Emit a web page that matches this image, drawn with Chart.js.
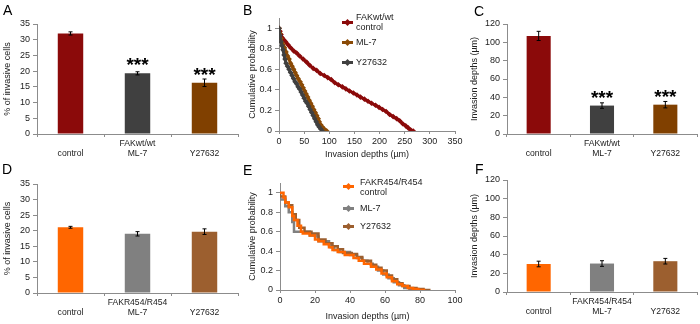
<!DOCTYPE html>
<html>
<head>
<meta charset="utf-8">
<script src="https://cdn.jsdelivr.net/npm/chart.js@4/dist/chart.umd.min.js"></script>
<style>
  body { margin: 0; background: #fff; }
  #wrap { position: relative; width: 700px; height: 324px; overflow: hidden; font-family: "Liberation Sans", Arial, sans-serif; }
  canvas { position: absolute; }
  .letter { position: absolute; font-size: 14px; line-height: 14px; color: #000; }
  .leg { position: absolute; font-size: 9px; line-height: 9.5px; color: #222; }
  .mk { position: absolute; width: 11px; height: 3px; }
  .mk i { position: absolute; left: 3px; top: -1.5px; width: 5px; height: 5px; transform: rotate(45deg); }
</style>
</head>
<body>
<div id="wrap">
  <canvas id="cA" width="240" height="160" style="left:0;top:0"></canvas>
  <canvas id="cB" width="240" height="160" style="left:230px;top:0"></canvas>
  <canvas id="cC" width="240" height="160" style="left:460px;top:0"></canvas>
  <canvas id="cD" width="240" height="164" style="left:0;top:160px"></canvas>
  <canvas id="cE" width="240" height="164" style="left:230px;top:160px"></canvas>
  <canvas id="cF" width="240" height="164" style="left:460px;top:160px"></canvas>

  <div class="letter" style="left:3px;top:3px">A</div>
  <div class="letter" style="left:243px;top:3px">B</div>
  <div class="letter" style="left:474px;top:4px">C</div>
  <div class="letter" style="left:2px;top:162px">D</div>
  <div class="letter" style="left:243px;top:163px">E</div>
  <div class="letter" style="left:475px;top:162px">F</div>

  <!-- legend B -->
  <div class="mk" style="left:342px;top:21px;background:#8b0a0a"><i style="background:#8b0a0a"></i></div>
  <div class="leg" style="left:356px;top:13px">FAKwt/wt<br>control</div>
  <div class="mk" style="left:342px;top:41px;background:#8a4a06"><i style="background:#8a4a06"></i></div>
  <div class="leg" style="left:356px;top:38px">ML-7</div>
  <div class="mk" style="left:342px;top:61px;background:#404040"><i style="background:#404040"></i></div>
  <div class="leg" style="left:356px;top:58px">Y27632</div>

  <!-- legend E -->
  <div class="mk" style="left:343px;top:185px;background:#ff6600"><i style="background:#ff6600"></i></div>
  <div class="leg" style="left:360px;top:178px">FAKR454/R454<br>control</div>
  <div class="mk" style="left:343px;top:207px;background:#808080"><i style="background:#808080"></i></div>
  <div class="leg" style="left:360px;top:204px">ML-7</div>
  <div class="mk" style="left:343px;top:225px;background:#9c5f2f"><i style="background:#9c5f2f"></i></div>
  <div class="leg" style="left:360px;top:222px">Y27632</div>
</div>
<script>
// ---- data ----
const barLabelsWt  = [['', 'control'], ['FAKwt/wt', 'ML-7'], ['', 'Y27632']];
const barLabelsMut = [['', 'control'], ['FAKR454/R454', 'ML-7'], ['', 'Y27632']];

const invasiveWt     = [32.0, 19.3, 16.3];
const invasiveWtErr  = [0.5, 0.5, 1.2];
const depthWt        = [107, 31, 32];
const depthWtErr     = [5, 3, 3.5];
const invasiveMut    = [21.1, 19.0, 19.7];
const invasiveMutErr = [0.3, 0.7, 0.9];
const depthMut       = [30, 30.5, 33];
const depthMutErr    = [3, 3, 3];
const starsWt        = ['', '***', '***'];

const colorsWt  = ['#8b0a0a', '#404040', '#804000'];
const colorsMut = ['#ff6600', '#808080', '#9c5f2f'];

const probTicks = [0, 0.2, 0.4, 0.6, 0.8, 1];
const probTickLabels = ['0', '0.2', '0.4', '0.6', '0.8', '1'];

// panel B cumulative curves [depth, probability]
const wtControl = [[0,1],[2,0.97],[4,0.94],[6,0.91],[9,0.89],[13,0.87],[18,0.84],[23,0.81],[29,0.78],[35,0.76],[41,0.73],[48,0.70],[55,0.67],[61,0.64],[68,0.61],[75,0.59],[82,0.56],[90,0.54],[97,0.52],[104,0.50],[111,0.47],[118,0.45],[126,0.43],[133,0.41],[140,0.39],[148,0.37],[155,0.35],[162,0.33],[170,0.31],[177,0.29],[184,0.27],[192,0.25],[199,0.23],[206,0.21],[213,0.19],[220,0.16],[227,0.14],[234,0.12],[240,0.10],[246,0.07],[252,0.05],[257,0.03],[262,0.01],[267,0]];
const wtML7 = [[0,1],[2,0.95],[4,0.90],[6,0.86],[8,0.84],[11,0.81],[14,0.77],[17,0.73],[20,0.70],[23,0.66],[26,0.63],[29,0.60],[32,0.57],[35,0.54],[38,0.51],[42,0.48],[45,0.45],[48,0.42],[51,0.39],[54,0.36],[57,0.33],[60,0.30],[63,0.27],[66,0.24],[69,0.21],[72,0.18],[75,0.15],[78,0.12],[80,0.09],[83,0.06],[86,0.04],[90,0.02],[95,0]];
const wtY27632 = [[0,1],[2,0.93],[4,0.87],[6,0.83],[8,0.79],[10,0.74],[12,0.70],[14,0.66],[17,0.63],[20,0.60],[23,0.57],[26,0.54],[29,0.51],[32,0.48],[35,0.46],[38,0.43],[41,0.41],[44,0.38],[47,0.35],[50,0.32],[53,0.29],[56,0.27],[59,0.24],[62,0.21],[65,0.18],[68,0.15],[71,0.12],[74,0.09],[77,0.06],[80,0.04],[83,0.02],[86,0]];

// panel E step curves [depth, probability]
const mutControl = [[0,1],[2,1],[3,0.95],[5,0.90],[7,0.85],[8,0.76],[10,0.72],[12,0.66],[13,0.60],[17,0.58],[20,0.56],[22,0.52],[25,0.50],[28,0.47],[30,0.44],[33,0.41],[37,0.39],[42,0.36],[45,0.33],[48,0.30],[52,0.27],[55,0.24],[58,0.21],[61,0.17],[64,0.13],[67,0.09],[70,0.06],[73,0.04],[76,0.02],[79,0.01],[83,0]];
const mutML7 = [[0,1],[3,0.93],[5,0.86],[7,0.80],[8,0.70],[12,0.60],[17,0.60],[21,0.56],[22,0.55],[28,0.50],[29,0.46],[31,0.44],[34,0.41],[40,0.39],[44,0.36],[47,0.33],[50,0.30],[53,0.27],[56,0.24],[59,0.20],[62,0.16],[65,0.12],[68,0.08],[71,0.05],[74,0.02],[77,0]];
const mutY27632 = [[0,1],[3,0.96],[5,0.90],[7,0.87],[9,0.78],[11,0.72],[14,0.64],[18,0.60],[22,0.58],[26,0.52],[30,0.48],[33,0.45],[36,0.42],[41,0.38],[44,0.37],[47,0.34],[52,0.30],[55,0.26],[58,0.23],[61,0.20],[64,0.15],[67,0.11],[70,0.07],[74,0.04],[78,0.02],[82,0.01],[86,0]];

// ---- common ----
const FONT = '"Liberation Sans", Arial, sans-serif';
const AXIS = '#8c8c8c';
const TXT = '#222';
Chart.defaults.font.family = FONT;
Chart.defaults.animation = false;

const errorBars = {
  id: 'errorBars',
  afterDatasetsDraw(chart, args, opts) {
    if (!opts.errors) return;
    const ctx = chart.ctx, y = chart.scales.y;
    const vals = chart.data.datasets[0].data;
    chart.getDatasetMeta(0).data.forEach((bar, i) => {
      const hi = y.getPixelForValue(vals[i] + opts.errors[i]);
      const lo = y.getPixelForValue(vals[i] - opts.errors[i]);
      ctx.save();
      ctx.strokeStyle = '#000';
      ctx.lineWidth = 1;
      ctx.beginPath();
      ctx.moveTo(bar.x, hi); ctx.lineTo(bar.x, lo);
      ctx.moveTo(bar.x - 2, hi); ctx.lineTo(bar.x + 2, hi);
      ctx.moveTo(bar.x - 2, lo); ctx.lineTo(bar.x + 2, lo);
      ctx.stroke();
      if (opts.stars && opts.stars[i]) {
        ctx.fillStyle = '#000';
        ctx.font = 'bold 19px ' + FONT;
        ctx.textAlign = 'center';
        ctx.textBaseline = 'alphabetic';
        ctx.fillText(opts.stars[i], bar.x, y.getPixelForValue(vals[i]) - 2);
      }
      ctx.restore();
    });
  }
};

function yAxis(max, step, title, left, titlePad) {
  return {
    min: 0, max: max,
    ticks: { stepSize: step, font: { size: 9 }, color: TXT, padding: 3 },
    grid: { drawOnChartArea: false, tickLength: 4, color: AXIS },
    border: { color: AXIS },
    title: { display: true, text: title, font: { size: 9 }, color: TXT, padding: { top: titlePad, bottom: 0 } },
    afterFit: s => { s.width = left; }
  };
}

function barChart(id, labels, values, errors, colors, yMax, yStep, yTitle, stars, box) {
  new Chart(document.getElementById(id), {
    type: 'bar',
    data: {
      labels: labels,
      datasets: [{ data: values, backgroundColor: colors, barPercentage: 1, categoryPercentage: 0.38 }]
    },
    options: {
      responsive: false,
      layout: { padding: { left: 0, top: box.top, right: box.w - box.right, bottom: 0 } },
      plugins: { legend: { display: false }, tooltip: { enabled: false }, errorBars: { errors: errors, stars: stars } },
      scales: {
        x: {
          grid: { drawOnChartArea: false, tickLength: 3, color: AXIS },
          border: { color: AXIS },
          ticks: { font: { size: 8.6, lineHeight: 1.17 }, color: TXT, padding: 2, maxRotation: 0, autoSkip: false },
          afterFit: s => { s.height = box.h - box.bottom; }
        },
        y: yAxis(yMax, yStep, yTitle, box.left, box.titlePad)
      }
    },
    plugins: [errorBars]
  });
}

function pts(arr) { return arr.map(p => ({ x: p[0], y: p[1] })); }

function curveChart(id, sets, xMax, xStep, yMax, box) {
  const y = yAxis(yMax, 0.2, 'Cumulative probability', box.left, box.titlePad);
  y.afterBuildTicks = s => { s.ticks = probTicks.map(v => ({ value: v })); };
  y.ticks.callback = function (v) { return probTickLabels[probTicks.indexOf(Math.round(v * 10) / 10)]; };
  new Chart(document.getElementById(id), {
    type: 'line',
    data: { datasets: sets },
    options: {
      responsive: false,
      layout: { padding: { left: 0, top: box.top, right: box.w - box.right, bottom: box.padBottom } },
      plugins: { legend: { display: false }, tooltip: { enabled: false } },
      scales: {
        x: {
          type: 'linear', min: 0, max: xMax,
          ticks: { stepSize: xStep, font: { size: 9 }, color: TXT, padding: 2 },
          grid: { drawOnChartArea: false, tickLength: 3, color: AXIS },
          border: { color: AXIS },
          title: { display: true, text: 'Invasion depths (µm)', font: { size: 9 }, color: TXT, padding: 0 },
          afterFit: s => { s.height = box.h - box.padBottom - box.bottom; }
        },
        y: y
      }
    }
  });
}

// ---- panels ----
barChart('cA', barLabelsWt, invasiveWt, invasiveWtErr, colorsWt, 35, 5, '% of invasive cells', starsWt,
  { w: 240, h: 160, left: 37, top: 24, right: 238, bottom: 134, titlePad: 2 });
barChart('cC', barLabelsWt, depthWt, depthWtErr, colorsWt, 120, 20, 'Invasion depths (µm)', starsWt,
  { w: 240, h: 160, left: 47, top: 24, right: 237, bottom: 134, titlePad: 9 });
barChart('cD', barLabelsMut, invasiveMut, invasiveMutErr, colorsMut, 35, 5, '% of invasive cells', null,
  { w: 240, h: 164, left: 37, top: 24, right: 238, bottom: 133, titlePad: 2 });
barChart('cF', barLabelsMut, depthMut, depthMutErr, colorsMut, 120, 20, 'Invasion depths (µm)', null,
  { w: 240, h: 164, left: 47, top: 20, right: 237, bottom: 132, titlePad: 9 });

const markerSet = (data, color, order) => ({
  data: pts(data), borderColor: color, backgroundColor: color, borderWidth: 3,
  pointStyle: 'rectRot', pointRadius: 2.8, pointBorderWidth: 0, order: order
});
curveChart('cB', [
  markerSet(wtControl, '#8b0a0a', 3),
  markerSet(wtML7, '#8a4a06', 2),
  markerSet(wtY27632, '#404040', 1)
], 350, 50, 1.1, { w: 240, h: 160, left: 49, top: 18, right: 225, bottom: 131, padBottom: 0, titlePad: 17 });

const stepSet = (data, color, order) => ({
  data: pts(data), borderColor: color, backgroundColor: color, borderWidth: 2.5,
  stepped: 'after', pointRadius: 0, order: order
});
curveChart('cE', [
  stepSet(mutControl, '#ff6600', 1),
  stepSet(mutML7, '#808080', 3),
  stepSet(mutY27632, '#9c5f2f', 2)
], 100, 20, 1.1, { w: 240, h: 164, left: 50, top: 23, right: 225, bottom: 130, padBottom: 2, titlePad: 17 });
</script>
</body>
</html>
